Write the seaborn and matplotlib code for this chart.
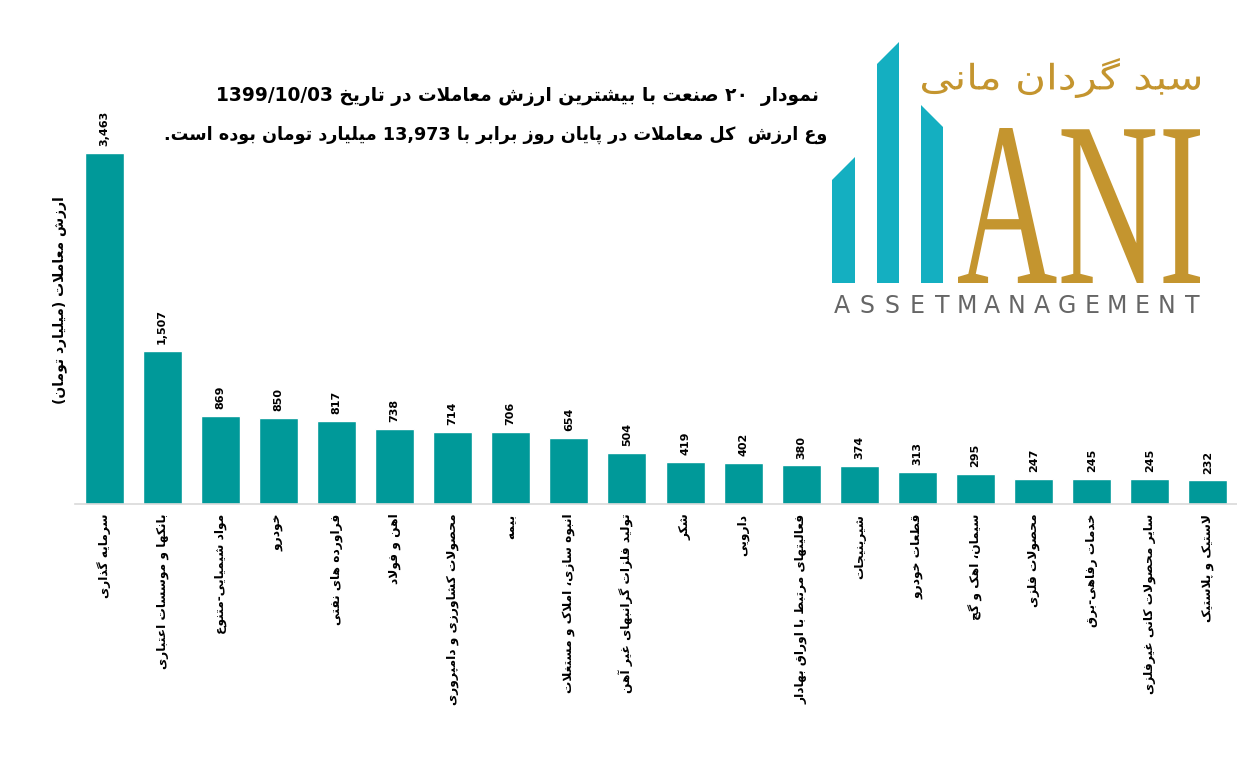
import re
import numpy as np
import pandas as pd
import matplotlib
matplotlib.use("Agg")
import matplotlib.pyplot as plt
import seaborn as sns
from matplotlib.patches import Polygon, PathPatch
from matplotlib.textpath import TextPath
from matplotlib.font_manager import FontProperties
from matplotlib.transforms import Affine2D

# ------------------------------
# data
# ------------------------------
industries = [
    "سرمایه گذاری", "بانکها و موسسات اعتباری", "مواد شیمیایی-متنوع", "خودرو",
    "فراورده های نفتی", "اهن و فولاد", "محصولات کشاورزی و دامپروری", "بیمه",
    "انبوه سازی، املاک و مستغلات", "تولید فلزات گرانبهای غیر آهن", "شکر", "دارویی",
    "فعالیتهای مرتبط با اوراق بهادار", "شیرینیجات", "قطعات خودرو", "سیمان، اهک و گچ",
    "محصولات فلزی", "خدمات رفاهی-برق", "سایر محصولات کانی غیرفلزی", "لاستیک و پلاستیک",
]
trade_value = [3463, 1507, 869, 850, 817, 738, 714, 706, 654, 504,
               419, 402, 380, 374, 313, 295, 247, 245, 245, 232]

title_line1 = "نمودار  ۲۰ صنعت با بیشترین ارزش معاملات در تاریخ 1399/10/03"
title_line2 = "مجموع ارزش  کل معاملات در پایان روز برابر با 13,973 میلیارد تومان بوده است."
y_title = "ارزش معاملات (میلیارد تومان)"

# ------------------------------
# tiny persian shaping + bidi (matplotlib does not shape arabic script)
# ------------------------------
FORMS = {  # isolated, final, initial, medial
    "ا": "\uFE8D\uFE8E", "آ": "\uFE81\uFE82",
    "ب": "\uFE8F\uFE90\uFE91\uFE92", "پ": "\uFB56\uFB57\uFB58\uFB59",
    "ت": "\uFE95\uFE96\uFE97\uFE98", "ث": "\uFE99\uFE9A\uFE9B\uFE9C",
    "ج": "\uFE9D\uFE9E\uFE9F\uFEA0", "چ": "\uFB7A\uFB7B\uFB7C\uFB7D",
    "ح": "\uFEA1\uFEA2\uFEA3\uFEA4", "خ": "\uFEA5\uFEA6\uFEA7\uFEA8",
    "د": "\uFEA9\uFEAA", "ذ": "\uFEAB\uFEAC", "ر": "\uFEAD\uFEAE",
    "ز": "\uFEAF\uFEB0", "ژ": "\uFB8A\uFB8B",
    "س": "\uFEB1\uFEB2\uFEB3\uFEB4", "ش": "\uFEB5\uFEB6\uFEB7\uFEB8",
    "ص": "\uFEB9\uFEBA\uFEBB\uFEBC", "ض": "\uFEBD\uFEBE\uFEBF\uFEC0",
    "ط": "\uFEC1\uFEC2\uFEC3\uFEC4", "ظ": "\uFEC5\uFEC6\uFEC7\uFEC8",
    "ع": "\uFEC9\uFECA\uFECB\uFECC", "غ": "\uFECD\uFECE\uFECF\uFED0",
    "ف": "\uFED1\uFED2\uFED3\uFED4", "ق": "\uFED5\uFED6\uFED7\uFED8",
    "ک": "\uFB8E\uFB8F\uFB90\uFB91", "گ": "\uFB92\uFB93\uFB94\uFB95",
    "ل": "\uFEDD\uFEDE\uFEDF\uFEE0", "م": "\uFEE1\uFEE2\uFEE3\uFEE4",
    "ن": "\uFEE5\uFEE6\uFEE7\uFEE8", "و": "\uFEED\uFEEE",
    "ه": "\uFEE9\uFEEA\uFEEB\uFEEC", "ی": "\uFBFC\uFBFD\uFBFE\uFBFF",
}
DUAL = {c for c, f in FORMS.items() if len(f) == 4}
LAMALEF = {"ا": "\uFEFB\uFEFC", "آ": "\uFEF5\uFEF6"}
MIRROR = {"(": ")", ")": "("}
LTR_RE = re.compile(r"[0-9A-Za-z\u06F0-\u06F9]+(?:[/,.:][0-9A-Za-z\u06F0-\u06F9]+)*")


def shape(s):
    res = []
    i, n = 0, len(s)
    while i < n:
        c = s[i]
        if c not in FORMS:
            res.append(c)
            i += 1
            continue
        link_prev = i > 0 and s[i - 1] in DUAL
        if c == "ل" and i + 1 < n and s[i + 1] in LAMALEF:
            lig = LAMALEF[s[i + 1]]
            res.append(lig[1] if link_prev else lig[0])
            i += 2
            continue
        link_next = c in DUAL and i + 1 < n and s[i + 1] in FORMS
        f = FORMS[c]
        if link_prev and link_next:
            res.append(f[3])
        elif link_prev:
            res.append(f[1])
        elif link_next:
            res.append(f[2])
        else:
            res.append(f[0])
        i += 1
    return "".join(res)


def fa(text):
    shaped = shape(text)
    parts, pos = [], 0
    for m in LTR_RE.finditer(shaped):
        if m.start() > pos:
            parts.append(("r", shaped[pos:m.start()]))
        parts.append(("l", m.group()))
        pos = m.end()
    if pos < len(shaped):
        parts.append(("r", shaped[pos:]))
    out = []
    for kind, seg in reversed(parts):
        if kind == "r":
            out.append("".join(MIRROR.get(c, c) for c in reversed(seg)))
        else:
            out.append(seg)
    return "".join(out)


# ------------------------------
# plot
# ------------------------------
sns.set_style("white")
plt.rcParams["font.family"] = ["DejaVu Sans"]
plt.rcParams["text.color"] = "black"
plt.rcParams["xtick.color"] = "black"

df = pd.DataFrame({"industry": industries, "value": trade_value})

fig = plt.figure(figsize=(12.37, 7.75), dpi=100)
ax = fig.add_axes([75 / 1237, 271 / 775, 1162 / 1237, 405.6 / 775])
ax.set_facecolor("none")

sns.barplot(data=df, x="industry", y="value", order=industries,
            color="#009999", saturation=1, width=0.67, ax=ax)

ax.bar_label(ax.containers[0], labels=[f"{v:,}" for v in trade_value],
             rotation=90, padding=5, fontsize=8, fontweight="bold", color="black")

ax.set_ylim(0, 4000)
ax.set_xlim(-0.5, len(industries) - 0.5)
ax.set_yticks([])
ax.set_xticks(range(len(industries)))
ax.set_xticklabels([fa(t) for t in industries], rotation=90, fontsize=8.8, fontweight="bold")
ax.tick_params(axis="x", length=0, pad=7)
ax.set_xlabel("")
ax.set_ylabel("")
for side in ["top", "right", "left"]:
    ax.spines[side].set_visible(False)
ax.spines["bottom"].set_color("#d9d9d9")
ax.spines["bottom"].set_linewidth(1.2)

fig.text(60 / 1237, 1 - 300 / 775, fa(y_title), rotation=90, ha="center", va="center",
         fontsize=10, fontweight="bold")

fig.text(517 / 1237, 1 - 96 / 775, fa(title_line1), ha="center", va="center",
         fontsize=13.4, fontweight="bold")
fig.text(513 / 1237, 1 - 135 / 775, fa(title_line2), ha="center", va="center",
         fontsize=12.7, fontweight="bold")

# ------------------------------
# logo (drawn in pixel-like coords)
# ------------------------------
lx0, lx1, ly0, ly1 = 826, 1210, 38, 325
lg = fig.add_axes([lx0 / 1237, 1 - ly1 / 775, (lx1 - lx0) / 1237, (ly1 - ly0) / 775], zorder=5)
lg.set_xlim(lx0, lx1)
lg.set_ylim(ly1, ly0)
lg.set_xticks([])
lg.set_yticks([])
for s in lg.spines.values():
    s.set_visible(False)
lg.set_facecolor("white")

teal = "#14AFC1"
gold = "#C4952F"
for xa, xb, ya, yb in [(832, 855, 180, 157), (877, 899, 64, 42), (921, 943, 105, 127)]:
    lg.add_patch(Polygon([(xa, 283), (xa, ya), (xb, yb), (xb, 283)], closed=True,
                         facecolor=teal, edgecolor="none"))


def fit_text(axl, txt, box, prop, color):
    path = TextPath((0, 0), txt, size=1, prop=prop)
    ext = path.get_extents()
    x0, x1, ytop, ybot = box
    sx = (x1 - x0) / ext.width
    sy = (ybot - ytop) / ext.height
    tr = Affine2D().translate(-ext.x0, -ext.y0).scale(sx, -sy).translate(x0, ybot)
    axl.add_patch(PathPatch(path, transform=tr + axl.transData, facecolor=color,
                            edgecolor="none"))


fit_text(lg, "ANI", (958, 1200, 128, 283), FontProperties(family="Liberation Serif"), gold)
fit_text(lg, fa("سبد گردان مانی"), (922, 1200, 58, 98),
         FontProperties(family="DejaVu Sans"), gold)

word = "ASSETMANAGEMENT"
step = (1192 - 842) / (len(word) - 1)
for i, ch in enumerate(word):
    lg.text(842 + i * step, 306, ch, ha="center", va="center", fontsize=17,
            color="#666666", family="DejaVu Sans")

fig.savefig("out.png", dpi=100)
